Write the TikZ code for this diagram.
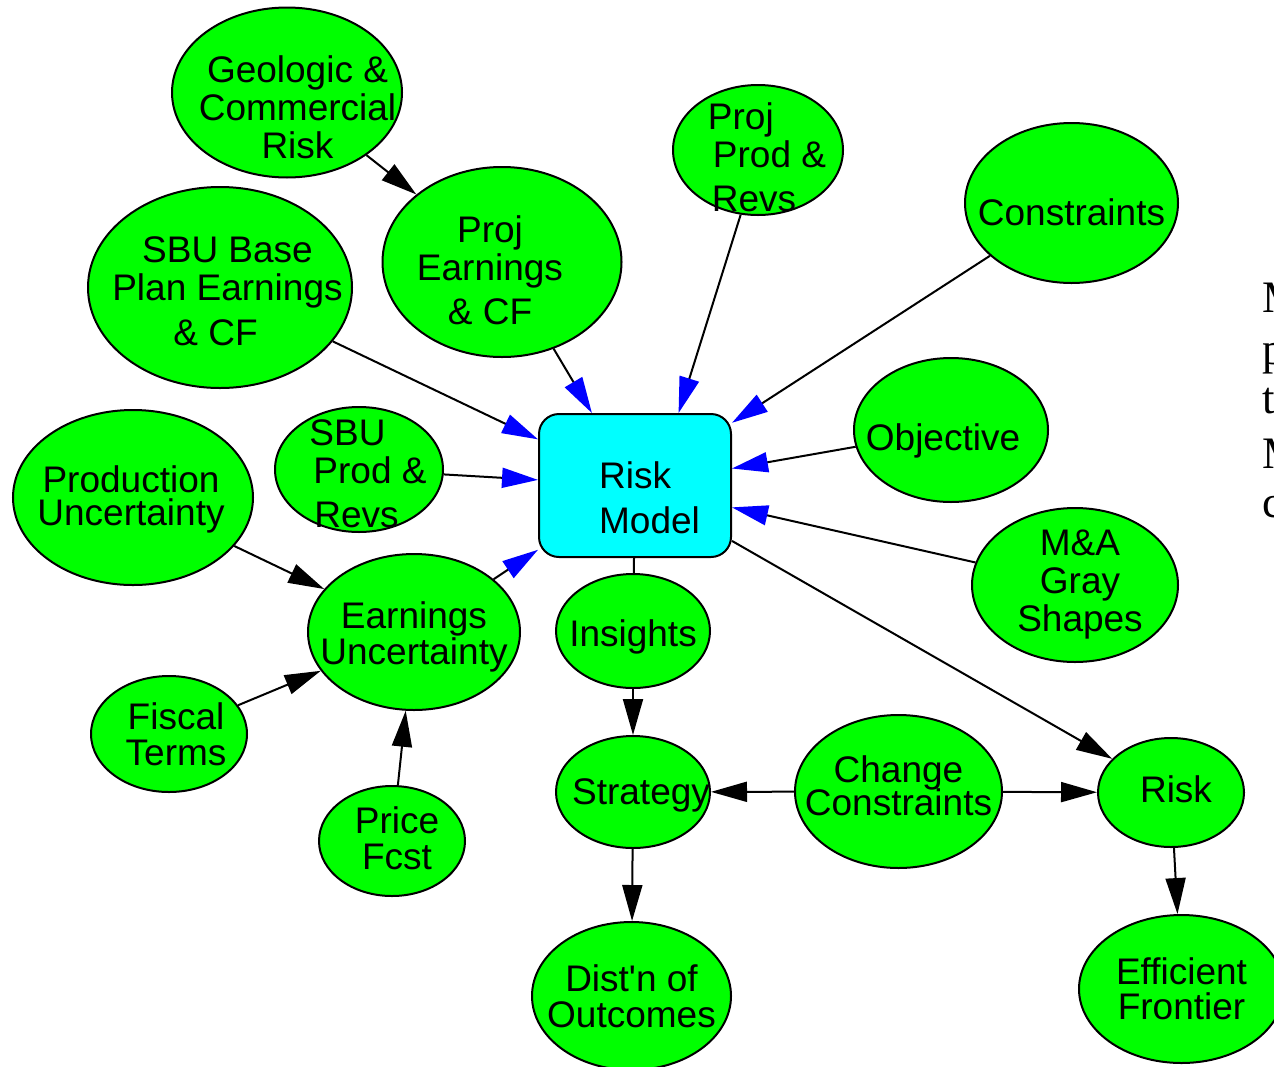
\documentclass[tikz,border=0pt]{standalone}
\usepackage{fontspec}
\setmainfont{Liberation Sans}
\newfontfamily\notefont{Liberation Serif}
\usetikzlibrary{shapes.geometric,arrows.meta}

\definecolor{nodegreen}{RGB}{0,255,0}
\definecolor{modelcyan}{RGB}{0,255,255}
\definecolor{tipblue}{RGB}{0,0,255}

\begin{document}
\begin{tikzpicture}[
    x=0.5pt, y=-0.5pt,
    blob/.style={ellipse, draw, fill=nodegreen, line width=1pt, inner sep=0pt},
    txt/.style={align=center, inner sep=0pt, font=\fontsize{18.5}{19}\selectfont},
    notetxt/.style={anchor=base west, inner sep=0pt, font=\notefont\fontsize{22.5}{22.5}\selectfont},
    arrow/.style={-{Triangle[length=18pt, width=10pt]}, line width=1pt},
    feed/.style={-{Triangle[length=18pt, width=10pt, color=tipblue]}, line width=1pt}
]
\useasboundingbox (0,0) rectangle (1274,1066);
\clip (0,0) rectangle (1274,1066);

\node[blob, minimum width=115pt, minimum height=85pt,
  label={[txt, xshift=5.25pt, yshift=-7.25pt]center:{Geologic \&\\Commercial\\Risk}}] (geo) at (287,92.5) {};
\node[blob, minimum width=132pt, minimum height=100.5pt,
  label={[txt, xshift=3.75pt, yshift=-2pt]center:{SBU Base\\Plan Earnings\\[3.5pt]\& CF\makebox[12pt]{}}}] (sbubase) at (220,287.5) {};
\node[blob, minimum width=119.5pt, minimum height=95pt,
  label={[txt, xshift=-6pt, yshift=-4.25pt]center:{Proj\\Earnings\\[3pt]\& CF}}] (projearn) at (502,262) {};
\node[blob, minimum width=85pt, minimum height=65pt,
  label={[txt, align=left, xshift=4.5pt, yshift=-3.75pt]center:{Proj\\\hspace*{2.5pt}Prod \&\\[3pt]\hspace*{2pt}Revs}}] (projprod) at (758,150) {};
\node[blob, minimum width=106.5pt, minimum height=80pt,
  label={[txt, yshift=-4.5pt]center:Constraints}] (constr) at (1071.5,203) {};
\node[blob, minimum width=97pt, minimum height=72pt,
  label={[txt, xshift=-4pt, yshift=-5.5pt]center:Objective}] (objective) at (951,430) {};
\node[blob, minimum width=84pt, minimum height=62.5pt,
  label={[txt, align=left, xshift=4.5pt, yshift=-2.25pt]center:{SBU\\\hspace*{2pt}Prod \&\\[3pt]\hspace*{2.5pt}Revs}}] (sbuprod) at (359,469.5) {};
\node[draw, rounded corners=10pt, fill=modelcyan, line width=1pt, minimum width=96pt, minimum height=71.5pt,
  label={[txt, align=left, xshift=7.25pt, yshift=-6pt]center:{Risk\\[3.5pt]Model}}] (riskmodel) at (635,485.5) {};
\node[blob, minimum width=120pt, minimum height=87.5pt,
  label={[txt, xshift=-1pt, yshift=-1pt]center:{Production\\[-2.5pt]Uncertainty}}] (produnc) at (133,497.5) {};
\node[blob, minimum width=103pt, minimum height=77pt,
  label={[txt, xshift=2.5pt]center:{M\&A\\Gray\\Shapes}}] (mna) at (1075,585) {};
\node[blob, minimum width=106pt, minimum height=78pt,
  label={[txt, yshift=-2.5pt]center:{Earnings\\[-1pt]Uncertainty}}] (earnunc) at (414,632) {};
\node[blob, minimum width=77pt, minimum height=57pt,
  label={[txt, yshift=-3pt]center:Insights}] (insights) at (633,631) {};
\node[blob, minimum width=78pt, minimum height=58pt,
  label={[txt, xshift=3.5pt]center:{Fiscal\\[-1pt]Terms}}] (fiscal) at (169,734) {};
\node[blob, minimum width=73pt, minimum height=55pt,
  label={[txt, xshift=2.5pt, yshift=1.5pt]center:{Price\\[-1pt]Fcst}}] (price) at (392,841) {};
\node[blob, minimum width=77pt, minimum height=56pt,
  label={[txt, xshift=4pt, yshift=-1.5pt]center:Strategy}] (strategy) at (633,792) {};
\node[blob, minimum width=103.5pt, minimum height=76.5pt,
  label={[txt, yshift=3pt]center:{Change\\[-2.5pt]Constraints}}] (change) at (898.5,791.5) {};
\node[blob, minimum width=73pt, minimum height=54.5pt,
  label={[txt, xshift=2.5pt, yshift=1.5pt]center:Risk}] (risk) at (1171,792.5) {};
\node[blob, minimum width=99.5pt, minimum height=74pt,
  label={[txt]center:{Dist\textquotesingle n of\\[-1pt]Outcomes}}] (distn) at (631.5,996) {};
\node[blob, minimum width=102.5pt, minimum height=74pt,
  label={[txt]center:{Efficient\\[-1.5pt]Frontier}}] (frontier) at (1181.5,989) {};

\node[notetxt] (note1) at (1262,312) {M};
\node[notetxt] (note2) at (1262,364) {p};
\node[notetxt] (note3) at (1262,413) {t};
\node[notetxt] (note4) at (1262,468) {M};
\node[notetxt] (note5) at (1262,517) {c};

\draw[arrow] (geo) -- (projearn);
\draw[feed] (projearn) -- (riskmodel);
\draw[feed] (projprod.255) -- (riskmodel.59);
\draw[feed] (constr) -- (riskmodel);
\draw[feed] (sbubase) -- (riskmodel);
\draw[feed] (objective) -- (riskmodel);
\draw[feed] (sbuprod) -- (riskmodel);
\draw[feed] (mna) -- (riskmodel);
\draw[feed] (earnunc) -- (riskmodel);
\draw[arrow] (produnc) -- (earnunc);
\draw[arrow] (fiscal) -- (earnunc);
\draw[arrow] (price) -- (earnunc);
\draw[line width=1pt] (riskmodel) -- (insights);
\draw[arrow] (riskmodel) -- (risk);
\draw[arrow] (insights) -- (strategy);
\draw[arrow] (strategy) -- (distn);
\draw[arrow] (change) -- (strategy);
\draw[arrow] (change) -- (risk);
\draw[arrow] (risk) -- (frontier);
\end{tikzpicture}
\end{document}
